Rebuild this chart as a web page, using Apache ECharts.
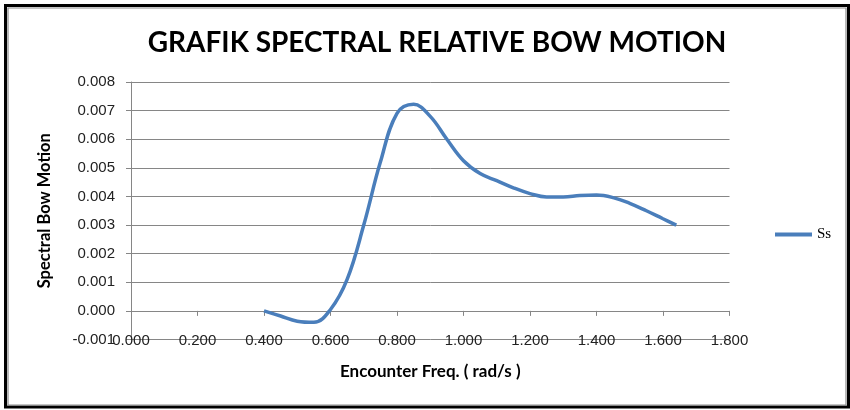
<!DOCTYPE html>
<html>
<head>
<meta charset="utf-8">
<script src="https://cdn.jsdelivr.net/npm/echarts@6/dist/echarts.min.js"></script>
<style>
  html, body { margin: 0; padding: 0; background: #fff; }
  #chart { width: 850px; height: 410px; }
</style>
</head>
<body>
<div id="chart"></div>
<script>
const titleText = 'GRAFIK SPECTRAL RELATIVE BOW MOTION';
const xAxisName = 'Encounter Freq. ( rad/s )';
const yAxisName = 'Spectral Bow Motion';
const seriesName = 'Ss';
const freq = [0.40, 0.45, 0.50, 0.55, 0.60, 0.65, 0.70, 0.75, 0.80, 0.85, 0.90, 0.95, 1.00, 1.05, 1.10, 1.15, 1.20, 1.25, 1.30, 1.35, 1.40, 1.45, 1.50, 1.55, 1.60, 1.64];
const ss = [0.0000, -0.00018, -0.00036, -0.00040, 0.00005, 0.00110, 0.00300, 0.00520, 0.00690, 0.00722, 0.00680, 0.00600, 0.00525, 0.00480, 0.00455, 0.00430, 0.00410, 0.00398, 0.00398, 0.00403, 0.00405, 0.00396, 0.00376, 0.00350, 0.00322, 0.00300];

const chart = echarts.init(document.getElementById('chart'), null, { renderer: 'canvas' });
const points = freq.map((f, i) => [f, ss[i]]);
const labelFont = { fontFamily: 'Liberation Sans', fontSize: 15, color: '#222' };

chart.setOption({
  backgroundColor: '#fff',
  animation: false,
  title: {
    text: titleText,
    left: 432,
    textAlign: 'center',
    top: 24,
    textStyle: { fontFamily: 'Lato', fontWeight: 'bold', fontSize: 28, color: '#000' }
  },
  legend: {
    data: [seriesName],
    left: 770,
    top: 222,
    icon: 'rect',
    itemWidth: 37,
    itemHeight: 4,
    textStyle: { fontFamily: 'Liberation Serif', fontSize: 15, color: '#000' }
  },
  grid: { left: 131, right: 120.5, top: 82, bottom: 70.5, containLabel: false, outerBoundsMode: 'none' },
  xAxis: {
    type: 'value',
    min: 0, max: 1.8, interval: 0.2,
    name: xAxisName,
    nameLocation: 'middle',
    nameGap: 24,
    nameTextStyle: { fontFamily: 'Lato', fontWeight: 'bold', fontSize: 17, color: '#000' },
    axisLine: { onZero: true, lineStyle: { color: '#868686', width: 1 } },
    axisTick: { show: true, length: 5, lineStyle: { color: '#868686' } },
    axisLabel: { ...labelFont, margin: -6, formatter: v => v.toFixed(3) },
    splitLine: { show: false }
  },
  yAxis: {
    type: 'value',
    min: -0.001, max: 0.008, interval: 0.001,
    name: yAxisName,
    nameLocation: 'middle',
    nameGap: 78,
    nameTextStyle: { fontFamily: 'Lato', fontWeight: 'bold', fontSize: 16.5, color: '#000' },
    axisLine: { show: true, onZero: false, lineStyle: { color: '#868686', width: 1 } },
    axisTick: { show: true, length: 5, lineStyle: { color: '#868686' } },
    axisLabel: { ...labelFont, margin: 16, formatter: v => v.toFixed(3) },
    splitLine: { show: true, lineStyle: { color: '#868686', width: 1 } }
  },
  series: [{
    name: seriesName,
    type: 'line',
    data: points,
    smooth: 0.4,
    showSymbol: false,
    lineStyle: { color: '#4a7ebb', width: 3.5 },
    itemStyle: { color: '#4a7ebb' }
  }],
  graphic: [
    { type: 'rect', shape: { x: 5.5, y: 5.5, width: 843, height: 401.5 }, style: { fill: 'none', stroke: '#000', lineWidth: 3 }, silent: true },
    { type: 'rect', shape: { x: 8, y: 8, width: 838, height: 397 }, style: { fill: 'none', stroke: '#8a8a8a', lineWidth: 1.2 }, silent: true }
  ]
});
</script>
</body>
</html>
